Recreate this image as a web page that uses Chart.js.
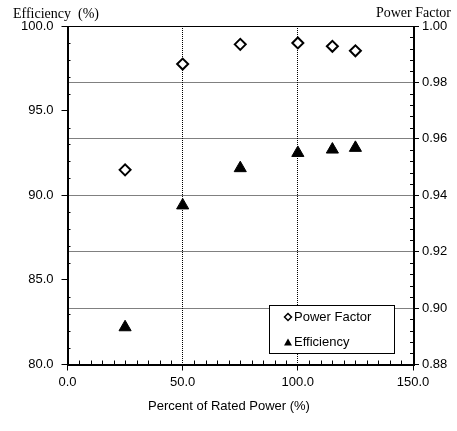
<!DOCTYPE html>
<html>
<head>
<meta charset="utf-8">
<script src="https://cdn.jsdelivr.net/npm/chart.js@4"></script>
<style>
  body { margin: 0; background: #fff; }
  #wrap { width: 457px; height: 431px; position: relative; }
</style>
</head>
<body>
<div id="wrap"><canvas id="scatter"></canvas></div>
<script>
document.addEventListener('DOMContentLoaded', init);

// data
const ratedPower = [25, 50, 75, 100, 115, 125];
const efficiency = [82.2, 89.4, 91.6, 92.5, 92.7, 92.8];
const powerFactor = [0.949, 0.9865, 0.9935, 0.994, 0.9928, 0.9912];
const seriesNames = ['Power Factor', 'Efficiency'];
const axisTitles = { left: 'Efficiency  (%)', right: 'Power Factor', bottom: 'Percent of Rated Power (%)' };

let canvasone, chartone;

function init() {
    canvasone = document.getElementById('scatter');
    chartone = canvasone.getContext('2d');
    createScatter();
}

function pairs(xs, ys) {
    return xs.map((x, i) => ({ x: x, y: ys[i] }));
}

// minor ticks, frame, axis titles and the boxed legend
const decorations = {
    id: 'decorations',
    afterDraw(chart) {
        const ctx = chart.ctx;
        const a = chart.chartArea;
        const sx = chart.scales.x, sy = chart.scales.y, sy2 = chart.scales.y2;
        ctx.save();
        ctx.strokeStyle = '#000';
        ctx.lineWidth = 1;
        ctx.beginPath();
        for (let v = 5; v < 150; v += 5) {
            if (v % 50 === 0) continue;
            const px = Math.round(sx.getPixelForValue(v)) + 0.5;
            ctx.moveTo(px, a.bottom);
            ctx.lineTo(px, a.bottom - 4);
        }
        for (let v = 81; v < 100; v++) {
            if (v % 5 === 0) continue;
            const py = Math.round(sy.getPixelForValue(v)) + 0.5;
            ctx.moveTo(a.left, py);
            ctx.lineTo(a.left + 3, py);
        }
        for (let k = 1; k < 30; k++) {
            if (k % 5 === 0) continue;
            const py = Math.round(sy2.getPixelForValue(0.88 + k * 0.004)) + 0.5;
            ctx.moveTo(a.right, py);
            ctx.lineTo(a.right - 3, py);
        }
        ctx.stroke();
        ctx.strokeRect(Math.round(a.left) + 0.5, Math.round(a.top) + 0.5,
            Math.round(a.right - a.left), Math.round(a.bottom - a.top));

        ctx.fillStyle = '#000';
        ctx.font = '14px "Liberation Serif", "Times New Roman", serif';
        ctx.textBaseline = 'alphabetic';
        ctx.textAlign = 'left';
        ctx.fillText(axisTitles.left, 13, 17.5);
        ctx.textAlign = 'right';
        ctx.fillText(axisTitles.right, 451, 17);
        ctx.font = '13px "Liberation Sans", Arial, sans-serif';
        ctx.textAlign = 'center';
        ctx.textBaseline = 'middle';
        ctx.fillText(axisTitles.bottom, 229, 406);

        // legend box
        const lx = 269, ly = 305, lw = 125, lh = 48;
        ctx.fillStyle = '#fff';
        ctx.fillRect(lx, ly, lw, lh);
        ctx.strokeRect(lx + 0.5, ly + 0.5, lw, lh);
        // diamond
        const dx = 288, dy = 317, dr = 3.5;
        ctx.lineWidth = 1.5;
        ctx.beginPath();
        ctx.moveTo(dx, dy - dr);
        ctx.lineTo(dx + dr, dy);
        ctx.lineTo(dx, dy + dr);
        ctx.lineTo(dx - dr, dy);
        ctx.closePath();
        ctx.stroke();
        // triangle
        const tx = 288, ty = 342.5;
        ctx.fillStyle = '#000';
        ctx.beginPath();
        ctx.moveTo(tx, ty - 4);
        ctx.lineTo(tx + 4, ty + 3);
        ctx.lineTo(tx - 4, ty + 3);
        ctx.closePath();
        ctx.fill();
        ctx.font = '13px "Liberation Sans", Arial, sans-serif';
        ctx.textAlign = 'left';
        ctx.textBaseline = 'middle';
        ctx.fillText(seriesNames[0], 294, 317);
        ctx.fillText(seriesNames[1], 294, 342);
        ctx.restore();
    }
};

function createScatter() {
    const tickFont = { family: '"Liberation Sans", Arial, sans-serif', size: 13 };
    new Chart(chartone, {
        type: 'scatter',
        data: {
            datasets: [{
                label: seriesNames[0],
                data: pairs(ratedPower, powerFactor),
                yAxisID: 'y2',
                pointStyle: 'rectRot',
                pointRadius: 5.5,
                pointBorderWidth: 2,
                borderColor: '#000',
                backgroundColor: '#fff'
            }, {
                label: seriesNames[1],
                data: pairs(ratedPower, efficiency),
                yAxisID: 'y',
                pointStyle: 'triangle',
                pointRadius: 7,
                pointBorderWidth: 1,
                borderColor: '#000',
                backgroundColor: '#000'
            }]
        },
        options: {
            responsive: true,
            maintainAspectRatio: false,
            animation: false,
            layout: { padding: { top: 26, left: 0, right: 0, bottom: 0 } },
            plugins: {
                legend: { display: false },
                tooltip: { enabled: false }
            },
            scales: {
                x: {
                    type: 'linear',
                    min: 0, max: 150,
                    afterFit(scale) { scale.height = 66.5; },
                    ticks: { stepSize: 50, padding: 4, color: '#000', font: tickFont,
                        callback: v => v.toFixed(1) },
                    grid: {
                        color: c => (c.tick && (c.tick.value === 50 || c.tick.value === 100)) ? '#000' : 'rgba(0,0,0,0)',
                        tickColor: '#000',
                        tickLength: 6
                    },
                    border: { color: '#000', dash: [1, 1] }
                },
                y: {
                    type: 'linear',
                    position: 'left',
                    min: 80, max: 100,
                    afterFit(scale) { scale.width = 67.5; },
                    ticks: { stepSize: 5, padding: 8, color: '#000', font: tickFont,
                        callback: v => v.toFixed(1) },
                    grid: { drawOnChartArea: false, color: '#000', tickLength: 6 },
                    border: { color: '#000' }
                },
                y2: {
                    type: 'linear',
                    position: 'right',
                    min: 0.88, max: 1.0,
                    afterFit(scale) { scale.width = 44; },
                    ticks: { stepSize: 0.02, padding: 3, color: '#000', font: tickFont,
                        callback: v => v.toFixed(2) },
                    grid: {
                        color: c => (c.tick && c.tick.value > 0.889 && c.tick.value < 0.991) ? '#000' : 'rgba(0,0,0,0)',
                        tickColor: '#000',
                        tickLength: 6
                    },
                    border: { color: '#000', dash: [1, 1] }
                }
            }
        },
        plugins: [decorations]
    });
}
</script>
</body>
</html>
